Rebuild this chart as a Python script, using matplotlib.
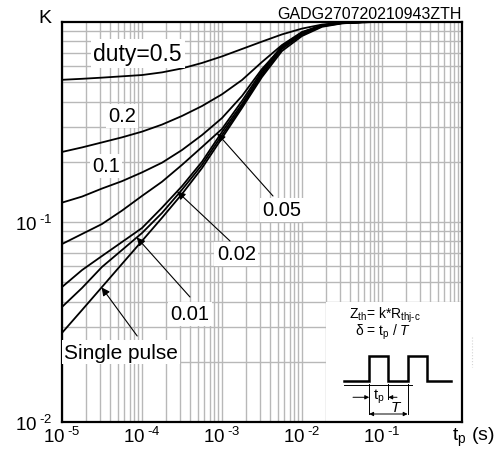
import numpy as np
import matplotlib
matplotlib.use('Agg')
import matplotlib.pyplot as plt
from matplotlib.patches import Rectangle
from matplotlib.lines import Line2D

plt.rcParams['font.family'] = 'Liberation Sans'
plt.rcParams['mathtext.fontset'] = 'custom'
plt.rcParams['mathtext.rm'] = 'Liberation Sans'
plt.rcParams['mathtext.it'] = 'Liberation Sans:italic'

#-------------------------- Zth curves (K vs pulse width) --------------------------

tp = [1e-5, 1.78e-5, 3.16e-5, 5.62e-5, 1e-4, 1.78e-4, 3.16e-4, 5.62e-4, 1e-3,
      1.78e-3, 3.16e-3, 5.62e-3, 1e-2, 1.78e-2, 3.16e-2, 5.62e-2, 1e-1, 1]

k_d05 = [0.514, 0.520, 0.527, 0.535, 0.543, 0.560, 0.586, 0.624, 0.673,
         0.733, 0.798, 0.867, 0.927, 0.971, 0.991, 0.998, 1.0, 1.0]
k_d02 = [0.224, 0.236, 0.250, 0.265, 0.283, 0.307, 0.339, 0.380, 0.435,
         0.513, 0.631, 0.767, 0.891, 0.964, 0.991, 0.998, 1.0, 1.0]
k_d01 = [0.125, 0.134, 0.147, 0.160, 0.177, 0.198, 0.229, 0.272, 0.331,
         0.427, 0.582, 0.750, 0.881, 0.959, 0.989, 0.998, 1.0, 1.0]
k_d005 = [0.0776, 0.0871, 0.0977, 0.114, 0.135, 0.159, 0.193, 0.237, 0.292,
          0.403, 0.569, 0.759, 0.887, 0.962, 0.991, 0.998, 1.0, 1.0]
k_d002 = [0.0473, 0.0575, 0.0676, 0.0794, 0.0933, 0.118, 0.151, 0.200, 0.282,
          0.389, 0.556, 0.746, 0.875, 0.957, 0.989, 0.998, 1.0, 1.0]
k_d001 = [0.0376, 0.0468, 0.0596, 0.0724, 0.0881, 0.111, 0.145, 0.193, 0.272,
          0.380, 0.543, 0.733, 0.865, 0.953, 0.986, 0.998, 1.0, 1.0]
k_single = [0.0279, 0.0363, 0.0473, 0.0617, 0.0804, 0.105, 0.138, 0.186, 0.263,
            0.372, 0.531, 0.716, 0.851, 0.946, 0.984, 0.998, 1.0, 1.0]

x_ticks = [1e-5, 1e-4, 1e-3, 1e-2, 1e-1]
x_ticklabels = ['$\\mathregular{10^{\\;\u20105}}$', '$\\mathregular{10^{\\;\u20104}}$',
                '$\\mathregular{10^{\\;\u20103}}$', '$\\mathregular{10^{\\;\u20102}}$',
                '$\\mathregular{10^{\\;\u20101}}$']
y_ticks = [1e-2, 1e-1]
y_ticklabels = ['$\\mathregular{10^{\\;\u20102}}$', '$\\mathregular{10^{\\;\u20101}}$']

#-------------------------- helpers ---------------------------------------------------

def k_at(t, curve):
    # log-log interpolation along a curve, used to land arrow tips on the line
    return 10 ** np.interp(np.log10(t), np.log10(tp), np.log10(curve))

#-------------------------- figure ----------------------------------------------------

fig = plt.figure(figsize=(5.04, 4.52), dpi=100)
ax = fig.add_axes([62 / 504, 29 / 452, 400 / 504, 400 / 452])

ax.set_xscale('log')
ax.set_yscale('log')
ax.set_xlim(1e-5, 1)
ax.set_ylim(1e-2, 1)

ax.set_axisbelow(True)
ax.grid(True, which='both', color='#b8b8b8', lw=1.0)

for curve in [k_d05, k_d02, k_d01, k_d005, k_d002, k_d001, k_single]:
    ax.plot(tp, curve, color='black', lw=1.3, zorder=2)

ax.set_xticks(x_ticks)
ax.set_xticklabels(x_ticklabels)
ax.set_yticks(y_ticks)
ax.set_yticklabels(y_ticklabels)
ax.xaxis.set_minor_formatter(plt.NullFormatter())
ax.yaxis.set_minor_formatter(plt.NullFormatter())
ax.tick_params(which='both', length=0, labelsize=13.5)
ax.tick_params(axis='x', pad=3)
ax.tick_params(axis='y', pad=7)

for sp in ax.spines.values():
    sp.set_linewidth(1.6)

ax.text(-0.0425, 1.012, 'K', transform=ax.transAxes, ha='center', va='center', fontsize=14)
ax.text(1.0275, -0.035, r't$_{\mathregular{p}}$ (s)', transform=ax.transAxes,
        ha='center', va='center', fontsize=14)
ax.text(1.0, 1.002, 'GADG270720210943ZTH', transform=ax.transAxes,
        ha='right', va='bottom', fontsize=11.5)

#-------------------------- duty labels and arrows ------------------------------------

box = dict(boxstyle='square,pad=0.12', fc='white', ec='none')
arrow = dict(arrowstyle='-|>', color='black', lw=0.8, mutation_scale=12, shrinkA=0, shrinkB=0)

ax.text(0.189, 0.921, 'duty=0.5', transform=ax.transAxes, ha='center', va='center', fontsize=16.5, bbox=box, zorder=3)
ax.text(0.15, 0.766, '0.2', transform=ax.transAxes, ha='center', va='center', fontsize=14.5, bbox=box, zorder=3)
ax.text(0.11, 0.641, '0.1', transform=ax.transAxes, ha='center', va='center', fontsize=14.5, bbox=box, zorder=3)
ax.text(0.549, 0.53, '0.05', transform=ax.transAxes, ha='center', va='center', fontsize=14.5, bbox=box, zorder=3)
ax.text(0.436, 0.42, '0.02', transform=ax.transAxes, ha='center', va='center', fontsize=14.5, bbox=box, zorder=3)
ax.text(0.32, 0.27, '0.01', transform=ax.transAxes, ha='center', va='center', fontsize=14.5, bbox=box, zorder=3)
ax.text(0.005, 0.174, 'Single pulse', transform=ax.transAxes, ha='left', va='center', fontsize=15, bbox=box, zorder=3)

tip_05, tip_02, tip_01, tip_s = 8.7e-4, 2.75e-4, 8.6e-5, 3.13e-5
ax.annotate('', xy=(tip_05, k_at(tip_05, k_d005)), xytext=(0.5275, 0.565),
            textcoords='axes fraction', arrowprops=arrow, zorder=3)
ax.annotate('', xy=(tip_02, k_at(tip_02, k_d002)), xytext=(0.42, 0.4525),
            textcoords='axes fraction', arrowprops=arrow, zorder=3)
ax.annotate('', xy=(tip_01, k_at(tip_01, k_d001)), xytext=(0.32, 0.3125),
            textcoords='axes fraction', arrowprops=arrow, zorder=3)
ax.annotate('', xy=(tip_s, k_at(tip_s, k_single)), xytext=(0.188, 0.215),
            textcoords='axes fraction', arrowprops=arrow, zorder=3)

#-------------------------- inset: definition and pulse train -------------------------

ax.add_patch(Rectangle((0.66, 0.0), 0.34, 0.3, transform=ax.transAxes, fc='white', ec='none', zorder=1))

ax.text(0.8075, 0.27, r'$\mathregular{Z_{th}}$= k*R$_{\mathregular{thj' + '\u2010' + r'c}}$',
        transform=ax.transAxes, ha='center', va='center', fontsize=10, zorder=3)
ax.text(0.8025, 0.226, r'δ = t$_{\mathregular{p}}$ / $\mathit{T}$', transform=ax.transAxes,
        ha='center', va='center', fontsize=10, zorder=3)

px = [0.7058, 0.7668, 0.7668, 0.8143, 0.8143, 0.8643, 0.8643, 0.9118, 0.9118, 0.9725]
py = [0.1018, 0.1018, 0.166, 0.166, 0.1018, 0.1018, 0.166, 0.166, 0.1018, 0.1018]
ax.plot(px, py, color='black', lw=1.8, transform=ax.transAxes, zorder=3, solid_joinstyle='miter')
ax.plot([0.7058, 0.875], [0.0925, 0.0925], color='black', lw=0.7, transform=ax.transAxes, zorder=3)
ax.plot([0.768, 0.768], [0.095, 0.02], color='black', lw=0.7, transform=ax.transAxes, zorder=3)
ax.plot([0.8158, 0.8158], [0.095, 0.0575], color='black', lw=0.7, transform=ax.transAxes, zorder=3)
ax.plot([0.864, 0.864], [0.095, 0.02], color='black', lw=0.7, transform=ax.transAxes, zorder=3)

small = dict(arrowstyle='-|>', color='black', lw=0.7, mutation_scale=6, shrinkA=0, shrinkB=0)
ax.annotate('', xy=(0.768, 0.0618), xytext=(0.7275, 0.0618), xycoords='axes fraction', arrowprops=small, zorder=3)
ax.annotate('', xy=(0.8158, 0.0618), xytext=(0.8375, 0.0618), xycoords='axes fraction', arrowprops=small, zorder=3)
ax.annotate('', xy=(0.768, 0.02), xytext=(0.864, 0.02), xycoords='axes fraction',
            arrowprops=dict(arrowstyle='<|-|>', color='black', lw=0.7, mutation_scale=6, shrinkA=0, shrinkB=0), zorder=3)
ax.text(0.7925, 0.066, r't$_{\mathregular{p}}$', transform=ax.transAxes, ha='center', va='center', fontsize=10.5, zorder=3)
ax.text(0.836, 0.038, r'$\mathit{T}$', transform=ax.transAxes, ha='center', va='center', fontsize=11, zorder=3)

fig.add_artist(Line2D([472 / 504, 472 / 504], [0.252, 0.186], color='#d4d4d4', lw=0.8, ls=':'))

fig.savefig('out.png', dpi=100)
